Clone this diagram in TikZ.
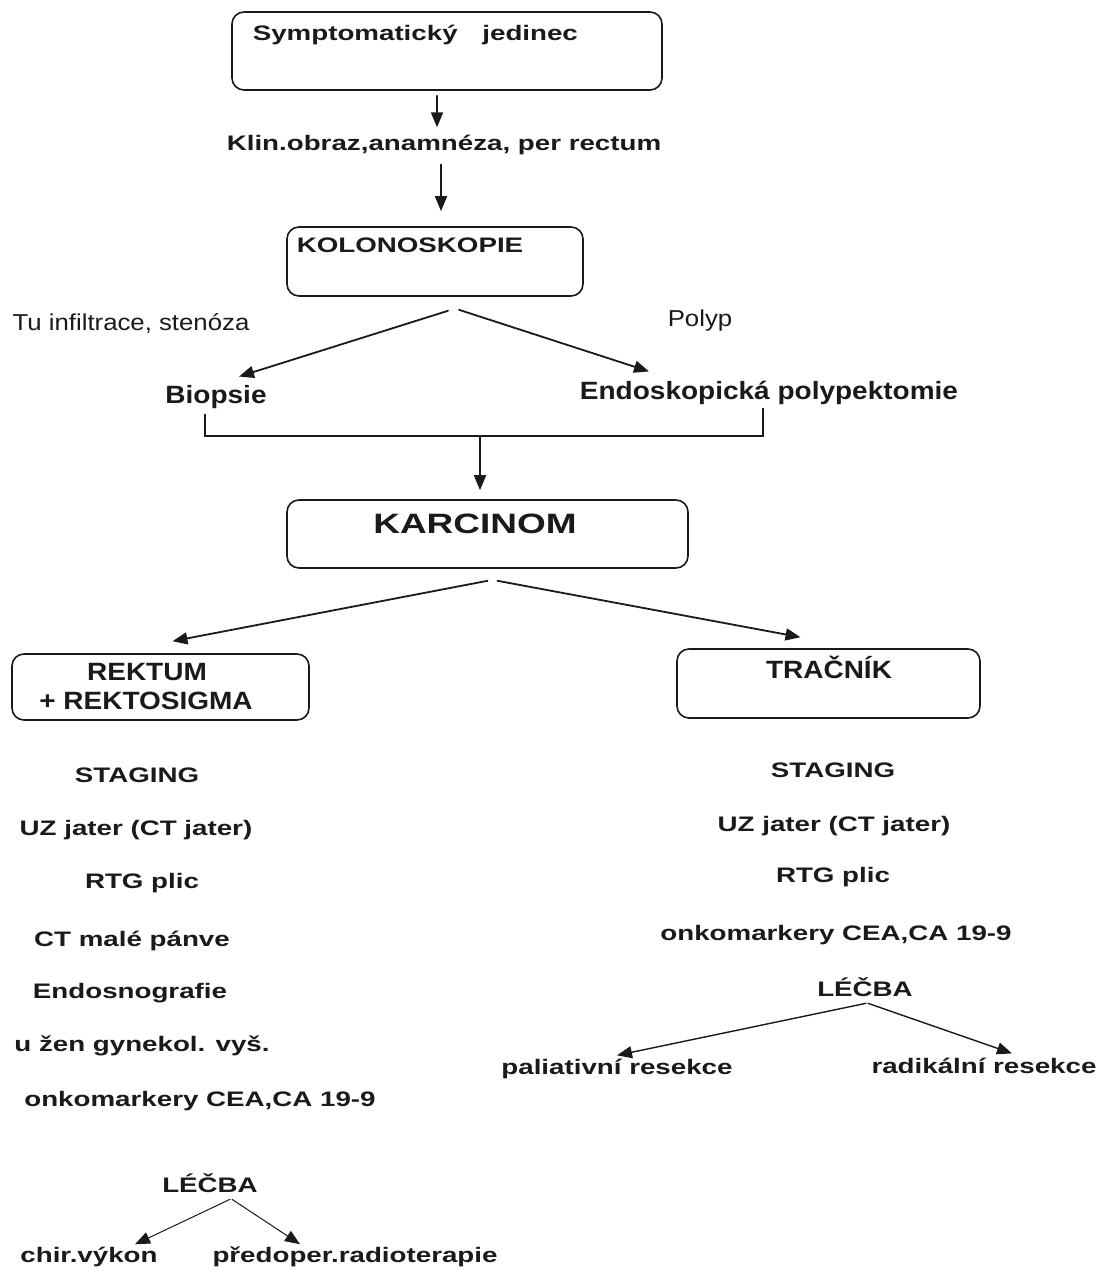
\documentclass[tikz,border=0pt]{standalone}
\usepackage{fontspec}
\setmainfont{Liberation Sans}
\newfontfamily\widefont[FakeStretch=1.32]{Liberation Sans}
\newfontfamily\condfont[FakeStretch=1.12]{Liberation Sans}
\usepackage{tikz}
\usetikzlibrary{arrows.meta}
\usepackage{xcolor}
\definecolor{ink}{HTML}{1A1A1A}

\begin{document}
\begin{tikzpicture}[x=1pt,y=-1pt,>={Triangle[length=15pt,width=12pt]},line cap=round,
  ink,line width=1.6pt,
  box/.style={draw,rounded corners=12pt,inner sep=0pt},
  txt/.style={inner sep=2pt,font=\widefont\bfseries\fontsize{21pt}{25pt}\selectfont},
  bigtxt/.style={inner sep=2pt,font=\widefont\bfseries\fontsize{28pt}{32pt}\selectfont},
  condtxt/.style={inner sep=2pt,font=\condfont\bfseries\fontsize{25pt}{29pt}\selectfont},
  thintxt/.style={inner sep=2pt,font=\condfont\fontsize{23pt}{27pt}\selectfont},
  arr/.style={->,line width=1.8pt},
  thinarr/.style={->,line width=1pt}]
\useasboundingbox[fill=white] (0,0) rectangle (1106,1274);

\node[box,minimum width=430,minimum height=78] (sympt) at (447,51) {};
\node[txt,anchor=west] (symptlbl) at (250,35) {Symptomatický\hspace{17pt} jedinec};
\node[txt] (klin) at (444,145) {Klin.obraz,anamnéza, per rectum};
\node[box,minimum width=296,minimum height=69] (kolo) at (435,261.5) {};
\node[txt,anchor=west] (kololbl) at (294,245) {KOLONOSKOPIE};
\node[thintxt] (tu) at (131,323) {Tu infiltrace, stenóza};
\node[thintxt] (polyp) at (700,321) {Polyp};
\node[condtxt] (biop) at (216,397) {Biopsie};
\node[condtxt] (endo) at (769,393) {Endoskopická polypektomie};
\node[box,minimum width=401,minimum height=68] (karc) at (487.5,534) {};
\node[bigtxt] (karclbl) at (475,524) {KARCINOM};
\node[box,minimum width=297,minimum height=66] (rekt) at (160.5,687) {};
\node[condtxt] (rektlbl) at (147,672) {REKTUM};
\node[condtxt] (rsig) at (146,701) {+ REKTOSIGMA};
\node[box,minimum width=303,minimum height=69] (trac) at (828.5,683.5) {};
\node[condtxt] (traclbl) at (829,667) {TRAČNÍK};

\node[txt] (lstag) at (137,775) {STAGING};
\node[txt] (luz) at (136,830) {UZ jater (CT jater)};
\node[txt] (lrtg) at (142,883) {RTG plic};
\node[txt] (lct) at (132,941) {CT malé pánve};
\node[txt] (lendo) at (130,993) {Endosnografie};
\node[txt] (lzen) at (142,1046) {u žen gynekol. vyš.};
\node[txt] (lonko) at (200,1101) {onkomarkery CEA,CA 19-9};
\node[txt] (llecba) at (210,1183) {LÉČBA};
\node[txt] (chir) at (89,1257) {chir.výkon};
\node[txt] (radio) at (355,1257) {předoper.radioterapie};

\node[txt] (rstag) at (833,770) {STAGING};
\node[txt] (ruz) at (834,826) {UZ jater (CT jater)};
\node[txt] (rrtg) at (833,877) {RTG plic};
\node[txt] (ronko) at (836,935) {onkomarkery CEA,CA 19-9};
\node[txt] (rlecba) at (865,987) {LÉČBA};
\node[txt] (pali) at (617,1069) {paliativní resekce};
\node[txt] (radi) at (984,1066) {radikální resekce};

\coordinate (brk) at (480,436);
\draw[arr] ([xshift=-10pt,yshift=-5pt]sympt.south) -- ([xshift=-7pt,yshift=5pt]klin.north);
\draw[arr] ([xshift=-3pt,yshift=-7pt]klin.south) -- ([xshift=6pt,yshift=15pt]kolo.north);
\draw[arr] ([xshift=13pt,yshift=-14pt]kolo.south) -- ([xshift=23pt,yshift=6pt]biop.north);
\draw[arr] ([xshift=24pt,yshift=-13pt]kolo.south) -- ([xshift=-120pt,yshift=7pt]endo.north);
\draw ([xshift=-11pt,yshift=-3pt]biop.south) |- (brk) -| ([xshift=-6pt,yshift=-1pt]endo.south);
\draw[arr] (brk) -- ([yshift=9pt]brk |- karc.north);
\draw[arr] ([yshift=-12pt]karc.south) -- ([xshift=12pt,yshift=12pt]rekt.north);
\draw[arr] ([xshift=10pt,yshift=-12pt]karc.south) -- ([xshift=-28pt,yshift=11pt]trac.north);
\draw[thinarr] ([xshift=20pt,yshift=-4pt]llecba.south) -- ([xshift=46pt,yshift=0pt]chir.north);
\draw[thinarr] ([xshift=22pt,yshift=-4pt]llecba.south) -- ([xshift=-55pt,yshift=0pt]radio.north);
\draw[arr,line width=1.4pt] ([xshift=1pt,yshift=-4pt]rlecba.south) -- ([xshift=0pt,yshift=1pt]pali.north);
\draw[arr,line width=1.4pt] ([xshift=3pt,yshift=-4pt]rlecba.south) -- ([xshift=28pt,yshift=2pt]radi.north);
\end{tikzpicture}
\end{document}
